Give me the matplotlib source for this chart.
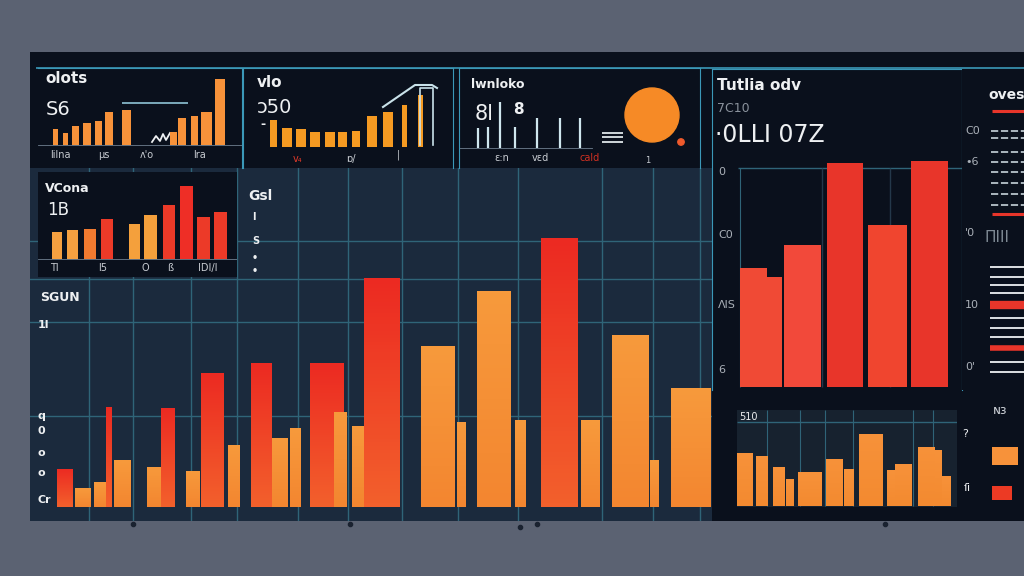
import numpy as np
import matplotlib.pyplot as plt
from matplotlib.patches import Rectangle, Circle
from matplotlib.colors import LinearSegmentedColormap

W, H = 1024, 576

# ---- data ----
# main chart: bar heights (0-100 scale), centres and widths along the panel
main_vals = [11.3, 5.6, 7.4, 29.7, 13.9, 11.9, 29.4, 10.7, 39.8, 18.4, 42.7, 20.5, 23.4,
             42.7, 28.2, 24.0, 68.0, 47.8, 25.2, 64.1, 25.8, 79.8, 25.8, 51.0, 13.9, 35.3]
main_kind = ['r', 'o', 'o', 'r', 'o', 'o', 'r', 'o', 'r', 'o', 'r', 'o', 'o',
             'r', 'o', 'o', 'r', 'o', 'o', 'o', 'o', 'r', 'o', 'o', 'o', 'o']
main_pos = [65, 83, 101, 109, 122, 158, 168, 193, 212, 234, 261, 280, 295,
            327, 340, 358, 382, 438, 461, 494, 520, 559, 590, 630, 654, 691]
main_wid = [16, 16, 15, 6, 17, 23, 14, 14, 23, 12, 21, 16, 11,
            34, 13, 13, 36, 34, 9, 34, 11, 37, 19, 37, 9, 40]
main_ylabels = ['1l', 'q', '0', 'o', 'o', 'Cr']

# top-left panel "olots"
olots_vals = [16, 12, 19, 22, 24, 33, 35, 13, 27, 29, 33, 66]
olots_pos = [55.5, 65.5, 75.5, 87, 98.5, 109, 126.5, 173.5, 182, 194.5, 206.5, 220]
olots_wid = [5, 5, 7, 8, 7, 8, 9, 7, 8, 7, 11, 10]
olots_ticks = ['lilna', 'μs', 'ʌ\'o', 'lra']

# top-middle panel "vlo"
vlo_vals = [27, 19, 18, 15, 15, 15, 16, 31, 35, 42, 52]
vlo_pos = [273.5, 287, 301, 315, 330, 342.5, 356, 372, 388, 404.5, 420.5]
vlo_wid = [7, 10, 10, 10, 10, 9, 8, 10, 10, 5, 5]
vlo_line_x = [383, 415, 432, 437]
vlo_line_y = [40, 62, 62, 59]

# "lwnloko" panel: thin spikes + bubble
spike_pos = [478, 488, 500, 515, 537, 560, 580]
spike_vals = [20, 21, 46, 21, 30, 30, 30]
bubble_r = 27

# "Tutlia odv" panel
tut_vals = [119, 110, 142, 224, 162, 226]
tut_pos = [753.5, 774.5, 802.5, 845, 887.5, 929.5]
tut_wid = [27, 15, 37, 36, 39, 37]
tut_col = ['#f04a35', '#f04a35', '#f2493a', '#e8352a', '#f0452f', '#e8352a']
tut_ylabels = ['0', 'C0', 'ΛlS', '6']

# "VCona" panel
vc_vals = [27, 29, 30, 40, 35, 44, 54, 73, 42, 47]
vc_pos = [57, 72.5, 90, 107, 134.5, 150.5, 169, 186.5, 203.5, 220.5]
vc_wid = [10, 11, 12, 12, 11, 13, 12, 13, 13, 13]
vc_col = ['#f5a040', '#f5a040', '#f07a30', '#ec3a28', '#f4a03c', '#f4a03c',
          '#ec3a28', '#ee2e26', '#ec3a28', '#ec3a28']
vc_ticks = ['Tl', 'l5', 'O', 'ß', 'IDI/I']

# bottom-right panel
br_vals = [53, 50, 39, 27, 34, 47, 37, 72, 36, 42, 59, 56, 30]
br_pos = [745, 762, 779, 790, 810, 834.5, 849, 871, 891, 903.5, 926.5, 938.5, 946.5]
br_wid = [16, 12, 12, 8, 24, 17, 10, 24, 8, 17, 17, 7, 9]

OUTER = '#5b6272'
DARK = '#0a101c'
NAVY = '#1b2a3d'
GRID = '#2f6478'
CYAN = '#3b98b8'
ORANGE = '#f7923a'
RED = '#ea2f25'
WHITE = '#eef0f2'

fig = plt.figure(figsize=(W / 100, H / 100), dpi=100, facecolor=OUTER)


def px_axes(x0, y0, x1, y1, fc, z=1):
    ax = fig.add_axes([x0 / W, 1 - y1 / H, (x1 - x0) / W, (y1 - y0) / H], zorder=z)
    ax.set_facecolor(fc)
    ax.set_xticks([])
    ax.set_yticks([])
    for s in ax.spines.values():
        s.set_visible(False)
    return ax


def panel(x0, y0, x1, y1, base, fc=DARK, z=2):
    # data units = pixels, y measured upward from the bar baseline
    ax = px_axes(x0, y0, x1, y1, fc, z)
    ax.set_xlim(x0, x1)
    ax.set_ylim(-(y1 - base), base - y0)
    return ax


def grad_bars(ax, pos, vals, wid, top, bot, z=3):
    cmap = LinearSegmentedColormap.from_list('g', [bot, top])
    bars = ax.bar(pos, vals, width=wid, color=top, zorder=z, linewidth=0)
    for b in bars:
        im = ax.imshow(np.linspace(0, 1, 64).reshape(-1, 1), cmap=cmap, origin='lower',
                       extent=[b.get_x(), b.get_x() + b.get_width(), 0, b.get_height()],
                       aspect='auto', zorder=z)
        im.set_clip_path(b)
    return bars


# dashboard background
bg = px_axes(30, 52, 1024, 530, OUTER, 0)
bg.set_xlim(30, 1024)
bg.set_ylim(530, 52)
bg.add_patch(Rectangle((30, 52), 994, 469, color=DARK, lw=0))
bg.hlines(68, 36, 1024, color=CYAN, lw=1.2)
bg.plot([133, 350, 520, 537, 885], [524, 524, 527, 524, 524], 'o', color='#1a2230', ms=3)

# ---- main chart ----
ax = px_axes(30, 168, 712, 521, NAVY, 1)
ax.set_xlim(30, 712)
ax.set_ylim(-4.15, 100.6)
for gy in [78.9, 54.9, 27.0]:
    ax.axhline(gy, color=GRID, lw=1, zorder=1)
ax.axhline(67.6, color=GRID, lw=1, zorder=1)
for gx in [89, 133, 191, 237, 298, 348, 402, 458, 518, 602, 653, 700]:
    ax.axvline(gx, color=GRID, lw=1, zorder=1)
for i, v in enumerate(main_vals):
    if main_kind[i] == 'r':
        grad_bars(ax, [main_pos[i]], [v], [main_wid[i]], '#ec2a22', '#f3602c', z=3 + i * 0.01)
    else:
        grad_bars(ax, [main_pos[i]], [v], [main_wid[i]], '#f79a3c', '#f38630', z=3 + i * 0.01)
ax.set_xlim(30, 712)
ax.set_ylim(-4.15, 100.6)
ax.text(40, 61, 'SGUN', color=WHITE, fontsize=9, fontweight='bold', zorder=10)
for lab, yy in zip(main_ylabels, [54, 27, 22.5, 16, 10, 2]):
    ax.text(38, yy, lab, color=WHITE, fontsize=8, fontweight='bold', va='center', zorder=10)
ax.text(248, 91, 'Gsl', color=WHITE, fontsize=10, fontweight='bold', zorder=10)
for lab, yy in zip(['l', 'S', '•', '•'], [86, 79, 74, 70]):
    ax.text(252, yy, lab, color=WHITE, fontsize=7, fontweight='bold', va='center', zorder=10)

# ---- top-left "olots" ----
a1 = panel(38, 68, 242, 168, 145)
a1.bar(olots_pos, olots_vals, width=olots_wid, color=ORANGE, linewidth=0, zorder=3)
a1.hlines(42, 122, 188, color='#8fc4d6', lw=1.2)
a1.plot([152, 156, 160, 163, 166, 170], [3, 9, 4, 11, 5, 12], color=WHITE, lw=1.3)
a1.axhline(0, color='#6f7f8f', lw=0.6)
a1.text(45, 62, 'olots', color=WHITE, fontsize=11, fontweight='bold')
a1.text(46, 30, 'S6', color=WHITE, fontsize=14)
for lab, xx in zip(olots_ticks, [50, 98, 140, 193]):
    a1.text(xx, -10, lab, color='#c8ccd2', fontsize=7, va='center')
for s in ['top', 'right']:
    a1.spines[s].set_visible(True)
    a1.spines[s].set_color(CYAN)

# ---- top-middle "vlo" ----
a2 = panel(243, 68, 453, 168, 147)
a2.bar(vlo_pos, vlo_vals, width=vlo_wid, color='#f59a22', linewidth=0, zorder=3)
a2.plot(vlo_line_x, vlo_line_y, color='#c9e2ea', lw=1.5, zorder=4)
a2.plot([420, 420, 433, 433], [2, 59, 59, 2], color='#c9e2ea', lw=1.2, zorder=4)
a2.text(257, 60, 'vlo', color=WHITE, fontsize=11, fontweight='bold')
a2.text(257, 34, 'ɔ50', color=WHITE, fontsize=14)
a2.text(260, 19, '-', color=WHITE, fontsize=9, fontweight='bold')
a2.text(293, -12, 'v₄', color='#e03a2a', fontsize=7, va='center')
a2.text(346, -12, 'ɒ/', color='#c8ccd2', fontsize=7, va='center')
a2.text(397, -8, '|', color='#c8ccd2', fontsize=7, va='center')
for s in ['top', 'left', 'right']:
    a2.spines[s].set_visible(True)
    a2.spines[s].set_color(CYAN)

# ---- "lwnloko" ----
a3 = panel(459, 68, 700, 168, 148)
a3.vlines(spike_pos, 0, spike_vals, color='#cfe6ee', lw=1.6)
a3.axhline(0, color='#6f7f8f', lw=0.6, xmax=0.55)
a3.hlines([15, 11, 6], 602, 623, color='#dfe6ea', lw=1.3)
a3.add_patch(Circle((652, 33), bubble_r, color='#f68a26', zorder=3))
a3.add_patch(Circle((681, 6), 3.2, color='#ef5a2c', zorder=3))
a3.set_aspect('auto')
a3.text(471, 64, 'lwnloko', color=WHITE, fontsize=9, fontweight='bold', va='center')
a3.text(475, 34, '8l', color=WHITE, fontsize=15, va='center')
a3.text(513, 38, '8', color=WHITE, fontsize=11, fontweight='bold', va='center')
a3.text(494, -10, 'ɛ:n', color='#c8ccd2', fontsize=7, va='center')
a3.text(532, -10, 'vɛd', color='#c8ccd2', fontsize=7, va='center')
a3.text(580, -10, 'cald', color='#d03022', fontsize=7, va='center')
a3.text(645, -12, '1', color='#c8ccd2', fontsize=6, va='center')
for s in ['top', 'left', 'right']:
    a3.spines[s].set_visible(True)
    a3.spines[s].set_color(CYAN)

# ---- "Tutlia odv" ----
a4 = panel(712, 69, 962, 390, 387)
a4.hlines(219, 738, 962, color=GRID, lw=1)
a4.vlines([822, 890], 0, 219, color='#24384a', lw=1)
a4.vlines(740, 0, 219, color=GRID, lw=0.8)
a4.bar(tut_pos, tut_vals, width=tut_wid, color=tut_col, linewidth=0, zorder=3)
a4.text(717, 302, 'Tutlia odv', color=WHITE, fontsize=11, fontweight='bold', va='center')
a4.text(717, 279, '7C10', color='#8a929c', fontsize=9, va='center')
a4.text(715, 252, '·0LLI 07Z', color=WHITE, fontsize=17, va='center')
for lab, yy in zip(tut_ylabels, [215, 152, 82, 17]):
    a4.text(718, yy, lab, color='#aab0b8', fontsize=8, va='center')
for s in ['top', 'left', 'right']:
    a4.spines[s].set_visible(True)
    a4.spines[s].set_color(CYAN)

# ---- "oves" legend column ----
a5 = panel(962, 69, 1024, 390, 387)
a5.text(988, 292, 'oves', color=WHITE, fontsize=10, fontweight='bold', va='center')
a5.hlines([276, 173], 992, 1024, color='#e8352a', lw=2.2)
a5.hlines([256, 249, 235, 225, 215, 204, 193, 182], 991, 1024, color='#b8c4cc', lw=1.3,
          linestyles=(0, (4, 1.5)))
a5.text(985, 150, 'ΠIII', color='#7f8a94', fontsize=11, va='center')
a5.hlines([120, 110, 102, 94, 69, 59, 50, 25, 15], 990, 1024, color=WHITE, lw=1.3)
a5.hlines([82], 990, 1024, color='#e8352a', lw=6)
a5.hlines([39], 990, 1024, color='#e8352a', lw=4)
for lab, yy in zip(['C0', '•6', "'0", '10', "0'"], [256, 225, 154, 82, 20]):
    a5.text(965, yy, lab, color='#aab0b8', fontsize=8, va='center')

# ---- "VCona" ----
a6 = panel(38, 172, 237, 277, 259)
a6.bar(vc_pos, vc_vals, width=vc_wid, color=vc_col, linewidth=0, zorder=3)
a6.axhline(0, color='#6f7f8f', lw=0.6)
a6.text(45, 71, 'VCona', color=WHITE, fontsize=9, fontweight='bold', va='center')
a6.text(47, 49, '1B', color=WHITE, fontsize=12, va='center')
for lab, xx in zip(vc_ticks, [50, 98, 142, 167, 198]):
    a6.text(xx, -9, lab, color='#c8ccd2', fontsize=7, va='center')

# ---- bottom-right ----
a7 = panel(718, 395, 1024, 521, 506)
a8 = panel(737, 410, 957, 507, 506, fc='#17222f', z=3)
a8.vlines([767, 800, 825, 853, 913, 933], 0, 96, color=GRID, lw=0.8)
a8.hlines(84, 737, 957, color=GRID, lw=1)
grad_bars(a8, br_pos, br_vals, br_wid, '#f7923a', '#f38a30')
a8.set_xlim(737, 957)
a8.set_ylim(-1, 96)
a8.text(739, 89, '510', color=WHITE, fontsize=7, va='center')
a7.text(993, 96, 'ɴɜ', color='#c8ccd2', fontsize=9, va='center')
a7.text(962, 72, '?', color=WHITE, fontsize=8, va='center')
a7.text(964, 18, 'ſi', color=WHITE, fontsize=8, va='center')
a7.bar([1005], [18], bottom=[41], width=26, color='#f7923a', linewidth=0)
a7.bar([1002], [14], bottom=[6], width=20, color='#ec3a24', linewidth=0)

plt.savefig('out.png', dpi=100, facecolor=OUTER)
